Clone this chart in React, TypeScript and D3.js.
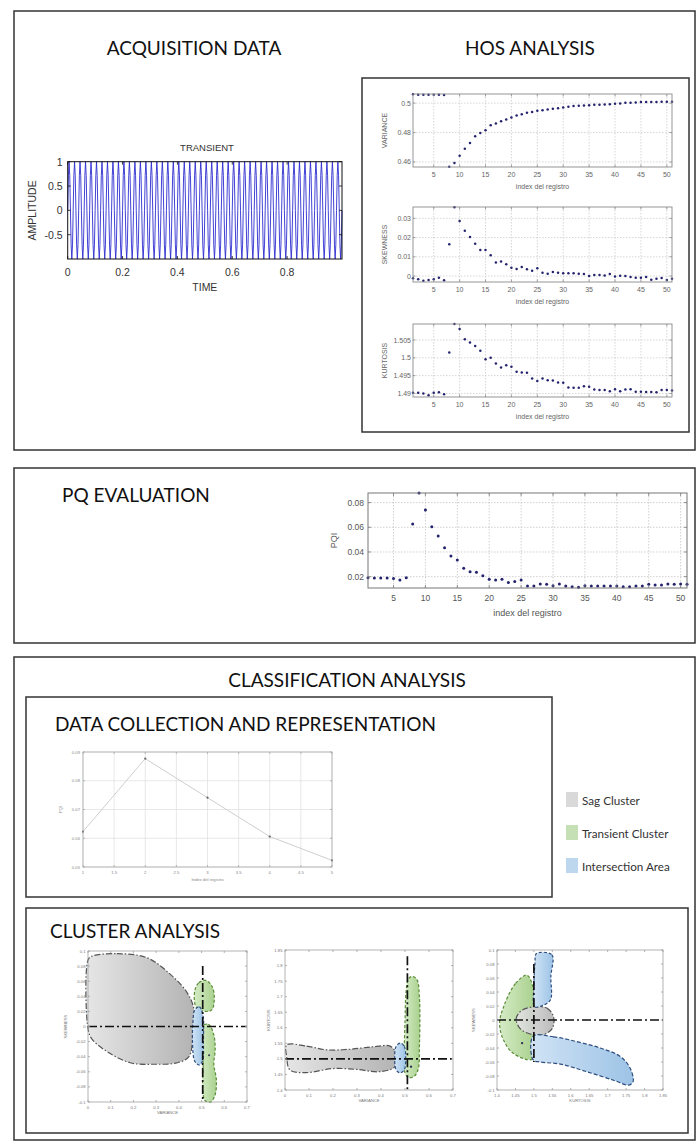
import React from 'react';
import * as d3 from 'd3';

// ---------------- DATA ----------------
const REGISTRO_TICKS = [5, 10, 15, 20, 25, 30, 35, 40, 45, 50];

const VARIANCE = [
  0.5060, 0.5057, 0.5057, 0.5057, 0.5057, 0.5057, 0.5056, 0.4568, 0.4593, 0.4643,
  0.4690, 0.4729, 0.4775, 0.4797, 0.4816, 0.4850, 0.4861, 0.4877, 0.4889, 0.4902,
  0.4916, 0.4925, 0.4934, 0.4939, 0.4948, 0.4952, 0.4957, 0.4961, 0.4966, 0.4970,
  0.4975, 0.4980, 0.4982, 0.4984, 0.4986, 0.4989, 0.4989, 0.4991, 0.4993, 0.4995,
  0.4998, 0.5002, 0.5002, 0.5005, 0.5007, 0.5007, 0.5007, 0.5007, 0.5009, 0.5009, 0.5009,
];
const SKEWNESS = [
  -0.0012, -0.0017, -0.0024, -0.0021, -0.0017, -0.0009, -0.0022, 0.0165, 0.0358, 0.0286,
  0.0236, 0.0203, 0.0168, 0.0135, 0.0135, 0.0108, 0.0071, 0.0075, 0.0061, 0.0043,
  0.0036, 0.0047, 0.0035, 0.0028, 0.0040, 0.0017, 0.0012, 0.0021, 0.0017, 0.0015,
  0.0015, 0.0014, 0.0012, 0.0010, 0.0000, 0.0005, 0.0005, 0.0003, 0.0010, -0.0003,
  0.0002, 0.0000, -0.0005, -0.0009, -0.0009, -0.0005, -0.0019, -0.0014, -0.0010, -0.0021, -0.0014,
];
const KURTOSIS = [
  1.4902, 1.4902, 1.4900, 1.4895, 1.4902, 1.4903, 1.4898, 1.5015, 1.5097, 1.5081,
  1.5052, 1.5043, 1.5033, 1.5020, 1.4996, 1.5000, 1.4984, 1.4973, 1.4979, 1.4975,
  1.4961, 1.4959, 1.4958, 1.4942, 1.4935, 1.4942, 1.4937, 1.4936, 1.4931, 1.4930,
  1.4917, 1.4916, 1.4916, 1.4920, 1.4919, 1.4911, 1.4910, 1.4910, 1.4906, 1.4912,
  1.4906, 1.4911, 1.4912, 1.4905, 1.4905, 1.4904, 1.4904, 1.4903, 1.4910, 1.4910, 1.4908,
];
const PQI = [
  0.0192, 0.0189, 0.0189, 0.0189, 0.0186, 0.0173, 0.0192, 0.0627, 0.0878, 0.0740,
  0.0605, 0.0530, 0.0435, 0.0368, 0.0335, 0.0268, 0.0240, 0.0235, 0.0208, 0.0179,
  0.0173, 0.0179, 0.0152, 0.0160, 0.0173, 0.0125, 0.0125, 0.0141, 0.0138, 0.0127,
  0.0141, 0.0125, 0.0119, 0.0114, 0.0127, 0.0125, 0.0125, 0.0125, 0.0125, 0.0125,
  0.0119, 0.0119, 0.0125, 0.0125, 0.0138, 0.0133, 0.0133, 0.0141, 0.0138, 0.0141, 0.0138,
];

// transient waveform: one period of samples, repeated for the number of periods seen
const TRANSIENT_PERIOD = [0, 0.71, 1, 0.71, 0, -0.71, -1, -0.71];
const TRANSIENT_PERIODS = 50;
const TIME_TICKS = [0, 0.2, 0.4, 0.6, 0.8];
const AMP_TICKS = [-0.5, 0, 0.5, 1];

// data collection plot
const DC_INDEX = [1, 2, 3, 4, 5];
const DC_PQI = [0.0623, 0.0877, 0.0741, 0.0606, 0.0523];
const DC_X_TICKS = [1, 1.5, 2, 2.5, 3, 3.5, 4, 4.5, 5];
const DC_Y_TICKS = [0.05, 0.06, 0.07, 0.08, 0.09];

// cluster analysis ticks
const VAR_TICKS = [0, 0.1, 0.2, 0.3, 0.4, 0.5, 0.6, 0.7];
const SKEW_TICKS = [-0.1, -0.08, -0.06, -0.04, -0.02, 0, 0.02, 0.04, 0.06, 0.08, 0.1];
const KURT_TICKS = [1.4, 1.45, 1.5, 1.55, 1.6, 1.65, 1.7, 1.75, 1.8, 1.85];

// cluster outlines  [x, y] in data units
const C1_SAG = [[0.016, 0.093], [0.127, 0.0965], [0.26, 0.091], [0.363, 0.069], [0.437, 0.0445], [0.467, 0.022], [0.462, -0.013], [0.444, -0.04], [0.393, -0.048], [0.29, -0.05], [0.186, -0.048], [0.083, -0.033], [0.016, -0.016], [0.0, -0.003], [0.0, 0.088]];
const C1_TRANS_UP = [[0.47, 0.047], [0.488, 0.058], [0.52, 0.061], [0.548, 0.052], [0.556, 0.036], [0.545, 0.022], [0.515, 0.02], [0.476, 0.026]];
const C1_TRANS_LOW = [[0.5, 0.0], [0.53, 0.003], [0.553, -0.01], [0.56, -0.03], [0.554, -0.05], [0.565, -0.07], [0.56, -0.09], [0.54, -0.1], [0.515, -0.098], [0.505, -0.08], [0.507, -0.05], [0.5, -0.02]];
const C1_INTER = [[0.47, 0.022], [0.49, 0.026], [0.506, 0.015], [0.508, -0.02], [0.505, -0.045], [0.49, -0.051], [0.47, -0.046], [0.46, -0.02], [0.462, 0.005]];
const C1_DOT = [0.533, -0.038];

const C2_SAG = [[0.007, 1.545], [0.09, 1.541], [0.174, 1.529], [0.271, 1.531], [0.368, 1.539], [0.4375, 1.541], [0.4625, 1.518], [0.458, 1.475], [0.396, 1.459], [0.299, 1.466], [0.201, 1.469], [0.09, 1.456], [0.021, 1.464], [0.007, 1.507]];
const C2_INTER = [[0.48, 1.551], [0.497, 1.54], [0.503, 1.503], [0.497, 1.465], [0.48, 1.455], [0.463, 1.465], [0.457, 1.503], [0.463, 1.54]];
const C2_TRANS = [[0.53, 1.765], [0.55, 1.755], [0.56, 1.7], [0.562, 1.62], [0.56, 1.54], [0.556, 1.47], [0.54, 1.445], [0.515, 1.44], [0.5, 1.455], [0.497, 1.52], [0.5, 1.62], [0.505, 1.72], [0.515, 1.758]];
const C2_DOT = [0.525, 1.475];

const C3_TRANS = [[1.481, 0.064], [1.45, 0.052], [1.418, 0.019], [1.407, -0.005], [1.418, -0.029], [1.445, -0.048], [1.495, -0.056], [1.5, -0.02], [1.5, 0.014], [1.497, 0.048]];
const C3_SAG = [[1.505, 0.019], [1.535, 0.017], [1.553, 0.005], [1.55, -0.012], [1.525, -0.021], [1.49, -0.02], [1.462, -0.012], [1.452, 0.002], [1.468, 0.014]];
const C3_INTER_UP = [[1.507, 0.095], [1.549, 0.093], [1.546, 0.062], [1.545, 0.029], [1.525, 0.021], [1.502, 0.019], [1.5, 0.048], [1.503, 0.081]];
const C3_INTER_LOW = [[1.498, -0.023], [1.553, -0.024], [1.617, -0.031], [1.68, -0.04], [1.734, -0.052], [1.761, -0.069], [1.769, -0.088], [1.757, -0.093], [1.716, -0.086], [1.644, -0.074], [1.572, -0.063], [1.517, -0.06], [1.498, -0.057]];
const C3_DOT = [1.468, -0.033];

const LEGEND_ITEMS = ['Sag Cluster', 'Transient Cluster', 'Intersection Area'];

// ---------------- STYLE ----------------
const TITLE_FONT = "Lato, 'Open Sans', sans-serif";
const AX_FONT = "'Liberation Sans', Arial, sans-serif";
const BOX = '#333';
const SAG_FILL = '#d9d9d9';
const TRANS_FILL = '#c5e0b4';
const INTER_FILL = '#bdd7ee';
const TITLE_FS = 19;

type Sc = d3.ScaleLinear<number, number>;

function gridLines(o: { id: string; x: Sc; y: Sc; xTicks: number[]; yTicks: number[]; grid: string; gridDash?: string }) {
  const [x0, x1] = o.x.range();
  const [y1, y0] = o.y.range();
  const els: JSX.Element[] = [];
  o.xTicks.forEach((t, i) => els.push(<line key={`${o.id}gx${i}`} x1={o.x(t)} x2={o.x(t)} y1={y0} y2={y1} stroke={o.grid} strokeWidth={0.7} strokeDasharray={o.gridDash} />));
  o.yTicks.forEach((t, i) => els.push(<line key={`${o.id}gy${i}`} x1={x0} x2={x1} y1={o.y(t)} y2={o.y(t)} stroke={o.grid} strokeWidth={0.7} strokeDasharray={o.gridDash} />));
  return els;
}

function frame(o: {
  id: string; x: Sc; y: Sc;
  xTicks: number[]; yTicks: number[]; xFmt: (v: number) => string; yFmt: (v: number) => string;
  fs: number; color: string; frame: string; frameW: number; tick: number;
  xGap: number; yGap: number;
  xTitle?: string; yTitle?: string; tFs: number; xTitleGap: number; yTitleX: number;
}) {
  const [x0, x1] = o.x.range();
  const [y1, y0] = o.y.range();
  const els: JSX.Element[] = [];
  o.xTicks.forEach((t, i) => {
    const px = o.x(t);
    els.push(<line key={`${o.id}tx${i}`} x1={px} x2={px} y1={y1} y2={y1 - o.tick} stroke={o.frame} strokeWidth={0.8} />);
    els.push(<line key={`${o.id}tx2${i}`} x1={px} x2={px} y1={y0} y2={y0 + o.tick} stroke={o.frame} strokeWidth={0.8} />);
    els.push(<text key={`${o.id}lx${i}`} x={px} y={y1 + o.xGap} fontSize={o.fs} fill={o.color} textAnchor="middle" dominantBaseline="central" fontFamily={AX_FONT}>{o.xFmt(t)}</text>);
  });
  o.yTicks.forEach((t, i) => {
    const py = o.y(t);
    els.push(<line key={`${o.id}ty${i}`} x1={x0} x2={x0 + o.tick} y1={py} y2={py} stroke={o.frame} strokeWidth={0.8} />);
    els.push(<line key={`${o.id}ty2${i}`} x1={x1} x2={x1 - o.tick} y1={py} y2={py} stroke={o.frame} strokeWidth={0.8} />);
    els.push(<text key={`${o.id}ly${i}`} x={x0 - o.yGap} y={py} fontSize={o.fs} fill={o.color} textAnchor="end" dominantBaseline="central" fontFamily={AX_FONT}>{o.yFmt(t)}</text>);
  });
  els.push(<rect key={`${o.id}fr`} x={x0} y={y0} width={x1 - x0} height={y1 - y0} fill="none" stroke={o.frame} strokeWidth={o.frameW} />);
  if (o.xTitle) els.push(<text key={`${o.id}xt`} x={(x0 + x1) / 2} y={y1 + o.xTitleGap} fontSize={o.tFs} fill={o.color} textAnchor="middle" dominantBaseline="central" fontFamily={AX_FONT}>{o.xTitle}</text>);
  if (o.yTitle) els.push(<text key={`${o.id}yt`} transform={`translate(${o.yTitleX},${(y0 + y1) / 2}) rotate(-90)`} fontSize={o.tFs} fill={o.color} textAnchor="middle" dominantBaseline="central" fontFamily={AX_FONT}>{o.yTitle}</text>);
  return els;
}

const fmt = (v: number) => String(+v.toFixed(4));

function HosPanel({ id, values, top, bottom, domain, yTicks, yTitle }: { id: string; values: number[]; top: number; bottom: number; domain: [number, number]; yTicks: number[]; yTitle: string }) {
  const x = d3.scaleLinear().domain([1, 51]).range([413, 672]);
  const y = d3.scaleLinear().domain(domain).range([bottom, top]);
  return (
    <g>
      {gridLines({ id, x, y, xTicks: REGISTRO_TICKS, yTicks, grid: '#c4c4c4', gridDash: '1.5,1.5' })}
      {values.map((v, i) => (
        <circle key={`${id}p${i}`} cx={x(i + 1)} cy={Math.min(bottom, Math.max(top, y(v)))} r={1.25} fill="#23236e" />
      ))}
      {frame({
        id, x, y, xTicks: REGISTRO_TICKS, yTicks, xFmt: fmt, yFmt: fmt, fs: 7, color: '#666', frame: '#8a8a8a', frameW: 0.9, tick: 2.5,
        xGap: 7.5, yGap: 2, xTitle: 'index del registro', yTitle, tFs: 7, xTitleGap: 19, yTitleX: 384,
      })}
    </g>
  );
}

function clusterShape(key: string, pts: number[][], x: Sc, y: Sc, fill: string, stroke: string, dash: string, opacity = 1) {
  const line = d3.line<number[]>().x((d) => x(d[0])).y((d) => y(d[1])).curve(d3.curveCatmullRomClosed.alpha(0.5));
  return <path key={key} d={line(pts) || ''} fill={fill} fillOpacity={opacity} stroke={stroke} strokeWidth={1.2} strokeDasharray={dash} />;
}

function ClusterPlot({ id, x, y, xTicks, yTicks, xTitle, yTitle, yTitleX, vLine, hLine, children }: any) {
  const [x0, x1] = x.range();
  const [yb, yt] = y.range();
  return (
    <g>
      <rect x={x0} y={yt} width={x1 - x0} height={yb - yt} fill="#fff" />
      {children}
      <line x1={x(vLine[0])} x2={x(vLine[0])} y1={y(vLine[1])} y2={y(vLine[2])} stroke="#111" strokeWidth={1.7} strokeDasharray="9,3,2,3" />
      <line x1={x(hLine[1])} x2={x(hLine[2])} y1={y(hLine[0])} y2={y(hLine[0])} stroke="#111" strokeWidth={1.7} strokeDasharray="9,3,2,3" />
      {frame({
        id, x, y, xTicks, yTicks, xFmt: fmt, yFmt: fmt, fs: 4.2, color: '#777', frame: '#a0a0a0', frameW: 0.8, tick: 2,
        xGap: 5, yGap: 2.5, xTitle, yTitle, tFs: 4.2, xTitleGap: 10.5, yTitleX,
      })}
    </g>
  );
}

export default function App() {
  // transient
  const tx = d3.scaleLinear().domain([0, 1]).range([67.7, 342]);
  const ty = d3.scaleLinear().domain([-1, 1]).range([259, 161.7]);
  const wave: [number, number][] = [];
  const n = TRANSIENT_PERIOD.length;
  for (let c = 0; c < TRANSIENT_PERIODS; c++) {
    TRANSIENT_PERIOD.forEach((v, k) => wave.push([(c + k / n) / TRANSIENT_PERIODS, v]));
  }
  wave.push([1, TRANSIENT_PERIOD[0]]);
  const wavePath = d3.line<[number, number]>().x((d) => tx(d[0])).y((d) => ty(d[1]))(wave) || '';

  // PQI
  const px = d3.scaleLinear().domain([1, 51]).range([368, 687]);
  const py = d3.scaleLinear().domain([0.0108, 0.0878]).range([588, 493]);
  const pqTicksY = [0.02, 0.04, 0.06, 0.08];

  // DC
  const dx = d3.scaleLinear().domain([1, 5]).range([83, 332]);
  const dy = d3.scaleLinear().domain([0.05, 0.09]).range([867, 752]);
  const dcLine = d3.line<number>().x((_, i) => dx(DC_INDEX[i])).y((d) => dy(d))(DC_PQI) || '';

  // clusters
  const c1x = d3.scaleLinear().domain([0, 0.7]).range([88, 247]);
  const c1y = d3.scaleLinear().domain([-0.1, 0.1]).range([1102, 951]);
  const c2x = d3.scaleLinear().domain([0, 0.7]).range([285, 453]);
  const c2y = d3.scaleLinear().domain([1.4, 1.85]).range([1090, 950]);
  const c3x = d3.scaleLinear().domain([1.4, 1.85]).range([497, 663]);
  const c3y = d3.scaleLinear().domain([-0.1, 0.1]).range([1090, 950]);

  const titleProps = { fontFamily: TITLE_FONT, fill: '#111', fontSize: TITLE_FS, dominantBaseline: 'central' } as const;

  return (
    <svg width={696} height={1142} style={{ position: 'absolute', left: 0, top: 0, background: '#fff' }} xmlns="http://www.w3.org/2000/svg">
      <defs>
        <linearGradient id="gSag" x1="0" x2="1" y1="0" y2="0">
          <stop offset="0" stopColor="#e6e6e6" />
          <stop offset="1" stopColor="#b3b3b3" />
        </linearGradient>
        <linearGradient id="gTrans" x1="0" x2="1" y1="0" y2="0">
          <stop offset="0" stopColor="#d5ebc6" />
          <stop offset="1" stopColor="#a9d18e" />
        </linearGradient>
        <linearGradient id="gInter" x1="0" x2="1" y1="0" y2="0">
          <stop offset="0" stopColor="#d0e3f5" />
          <stop offset="1" stopColor="#9dc3e6" />
        </linearGradient>
      </defs>
      <rect x={0} y={0} width={696} height={1142} fill="#fff" />

      {/* ---------- Box 1 ---------- */}
      <rect x={14} y={11} width={681} height={439} fill="none" stroke={BOX} strokeWidth={1.5} />
      <text x={194} y={47} textAnchor="middle" {...titleProps}>ACQUISITION DATA</text>
      <text x={530} y={47} textAnchor="middle" {...titleProps}>HOS ANALYSIS</text>
      <rect x={362} y={78} width={327} height={354} fill="none" stroke={BOX} strokeWidth={1.5} />

      {/* transient */}
      <text x={207} y={147} fontSize={9.5} textAnchor="middle" dominantBaseline="central" fontFamily={AX_FONT} fill="#333">TRANSIENT</text>
      <path d={wavePath} fill="none" stroke="#2d2dd0" strokeWidth={0.9} />
      {frame({
        id: 'tr', x: tx, y: ty, xTicks: TIME_TICKS, yTicks: AMP_TICKS, xFmt: fmt, yFmt: fmt, fs: 10.5, color: '#333', frame: '#111', frameW: 1, tick: 3,
        xGap: 13, yGap: 5, xTitle: 'TIME', yTitle: 'AMPLITUDE', tFs: 10.5, xTitleGap: 28, yTitleX: 32,
      })}

      {/* HOS */}
      <HosPanel id="var" values={VARIANCE} top={94} bottom={167} domain={[0.4566, 0.5062]} yTicks={[0.46, 0.48, 0.5]} yTitle="VARIANCE" />
      <HosPanel id="skw" values={SKEWNESS} top={207} bottom={282} domain={[-0.0031, 0.0359]} yTicks={[0, 0.01, 0.02, 0.03]} yTitle="SKEWNESS" />
      <HosPanel id="kur" values={KURTOSIS} top={324} bottom={397} domain={[1.489, 1.5095]} yTicks={[1.49, 1.495, 1.5, 1.505]} yTitle="KURTOSIS" />

      {/* ---------- Box 2 ---------- */}
      <rect x={14} y={468} width={681} height={175} fill="none" stroke={BOX} strokeWidth={1.5} />
      <text x={62} y={494} {...titleProps}>PQ EVALUATION</text>
      {gridLines({ id: 'pq', x: px, y: py, xTicks: REGISTRO_TICKS, yTicks: pqTicksY, grid: '#bdbdbd', gridDash: '1.5,1.5' })}
      {PQI.map((v, i) => <circle key={`pq${i}`} cx={px(i + 1)} cy={Math.max(493, py(v))} r={1.5} fill="#23236e" />)}
      {frame({
        id: 'pqf', x: px, y: py, xTicks: REGISTRO_TICKS, yTicks: pqTicksY, xFmt: fmt, yFmt: fmt, fs: 8.5, color: '#555', frame: '#777', frameW: 1, tick: 3,
        xGap: 10, yGap: 4, xTitle: 'index del registro', yTitle: 'PQI', tFs: 9, xTitleGap: 25, yTitleX: 334,
      })}

      {/* ---------- Box 3 ---------- */}
      <rect x={14} y={657} width={681} height={483} fill="none" stroke={BOX} strokeWidth={1.5} />
      <text x={347} y={679} textAnchor="middle" {...titleProps}>CLASSIFICATION ANALYSIS</text>

      <rect x={26} y={697} width={526} height={200} fill="none" stroke={BOX} strokeWidth={1.5} />
      <text x={55} y={723} {...titleProps}>DATA COLLECTION AND REPRESENTATION</text>
      {gridLines({ id: 'dc', x: dx, y: dy, xTicks: DC_X_TICKS, yTicks: DC_Y_TICKS, grid: '#dedede' })}
      <path d={dcLine} fill="none" stroke="#cfcfcf" strokeWidth={1} />
      {DC_PQI.map((v, i) => <circle key={`dc${i}`} cx={dx(DC_INDEX[i])} cy={dy(v)} r={1.1} fill="#666" />)}
      {frame({
        id: 'dcf', x: dx, y: dy, xTicks: DC_X_TICKS, yTicks: DC_Y_TICKS, xFmt: fmt, yFmt: fmt, fs: 4.2, color: '#888', frame: '#aaa', frameW: 0.8, tick: 2,
        xGap: 5, yGap: 3, xTitle: 'Index del registro', yTitle: 'PQI', tFs: 4.2, xTitleGap: 12, yTitleX: 60,
      })}

      {/* legend */}
      {LEGEND_ITEMS.map((t, i) => (
        <g key={`lg${i}`}>
          <rect x={566} y={792 + i * 33} width={12} height={15} fill={[SAG_FILL, TRANS_FILL, INTER_FILL][i]} />
          <text x={582} y={800 + i * 33} fontSize={11.7} dominantBaseline="central" fontFamily={TITLE_FONT} fill="#333">{t}</text>
        </g>
      ))}

      {/* cluster analysis */}
      <rect x={26} y={908} width={662} height={225} fill="none" stroke={BOX} strokeWidth={1.5} />
      <text x={50} y={930} {...titleProps}>CLUSTER ANALYSIS</text>

      <ClusterPlot id="c1" x={c1x} y={c1y} xTicks={VAR_TICKS} yTicks={SKEW_TICKS} xTitle="VARIANCE" yTitle="SKEWNESS" yTitleX={65} vLine={[0.505, 0.08, -0.1]} hLine={[0, 0, 0.7]}>
        {clusterShape('c1s', C1_SAG, c1x, c1y, 'url(#gSag)', '#555', '6,2,1.5,2')}
        {clusterShape('c1tu', C1_TRANS_UP, c1x, c1y, 'url(#gTrans)', '#5b8c3a', '3,2')}
        {clusterShape('c1tl', C1_TRANS_LOW, c1x, c1y, 'url(#gTrans)', '#5b8c3a', '3,2')}
        {clusterShape('c1i', C1_INTER, c1x, c1y, 'url(#gInter)', '#2e4e7e', '3,2')}
        <circle cx={c1x(C1_DOT[0])} cy={c1y(C1_DOT[1])} r={1} fill="#335" />
      </ClusterPlot>

      <ClusterPlot id="c2" x={c2x} y={c2y} xTicks={VAR_TICKS} yTicks={KURT_TICKS} xTitle="VARIANCE" yTitle="KURTOSIS" yTitleX={268} vLine={[0.51, 1.83, 1.4]} hLine={[1.5, 0, 0.7]}>
        {clusterShape('c2s', C2_SAG, c2x, c2y, 'url(#gSag)', '#555', '6,2,1.5,2')}
        {clusterShape('c2t', C2_TRANS, c2x, c2y, 'url(#gTrans)', '#5b8c3a', '3,2')}
        {clusterShape('c2i', C2_INTER, c2x, c2y, 'url(#gInter)', '#2e4e7e', '3,2')}
        <circle cx={c2x(C2_DOT[0])} cy={c2y(C2_DOT[1])} r={1.2} fill="#335" />
      </ClusterPlot>

      <ClusterPlot id="c3" x={c3x} y={c3y} xTicks={KURT_TICKS} yTicks={SKEW_TICKS} xTitle="KURTOSIS" yTitle="SKEWNESS" yTitleX={473} vLine={[1.5, 0.08, -0.06]} hLine={[0, 1.4, 1.85]}>
        {clusterShape('c3t', C3_TRANS, c3x, c3y, 'url(#gTrans)', '#5b8c3a', '3,2')}
        {clusterShape('c3s', C3_SAG, c3x, c3y, 'url(#gSag)', '#555', '6,2,1.5,2', 0.9)}
        {clusterShape('c3iu', C3_INTER_UP, c3x, c3y, 'url(#gInter)', '#2e4e7e', '3,2')}
        {clusterShape('c3il', C3_INTER_LOW, c3x, c3y, 'url(#gInter)', '#2e4e7e', '4,2')}
        <circle cx={c3x(C3_DOT[0])} cy={c3y(C3_DOT[1])} r={1.2} fill="#335" />
      </ClusterPlot>
    </svg>
  );
}
